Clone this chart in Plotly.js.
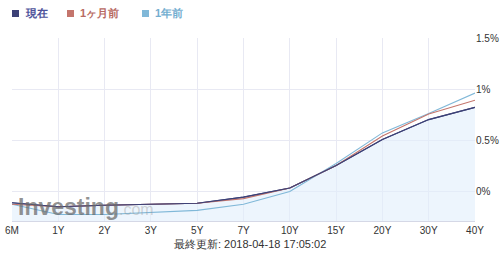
<!DOCTYPE html>
<html>
<head>
<meta charset="utf-8">
<script src="https://cdn.plot.ly/plotly-3.0.1.min.js"></script>
<style>
html,body{margin:0;padding:0;background:#fff;}
#chart{width:501px;height:254px;}
</style>
</head>
<body>
<div id="chart"></div>
<script>
const categories = ["6M","1Y","2Y","3Y","5Y","7Y","10Y","15Y","20Y","30Y","40Y"];
const current   = [-0.115,-0.155,-0.14,-0.13,-0.12,-0.06,0.03,0.25,0.505,0.70,0.82];
const monthAgo  = [-0.13,-0.155,-0.14,-0.13,-0.12,-0.075,0.03,0.25,0.54,0.755,0.89];
const yearAgo   = [-0.13,-0.23,-0.23,-0.21,-0.19,-0.13,-0.005,0.27,0.57,0.76,0.96];
const seriesNames = ["現在","1ヶ月前","1年前"];
const seriesColors = ["#3c4177","#c4756c","#80b8d8"];
const legendTextColors = ["#4d529a","#b86a62","#74aed0"];
const yTickVals = [0,0.5,1,1.5];
const yTickText = ["0%","0.5%","1%","1.5%"];
const footerText = "最終更新: 2018-04-18 17:05:02";

const yMin = -0.294, yMax = 1.5;
const baseline = categories.map(() => yMin);

const traces = [
  {x: categories, y: baseline, mode: "lines", line: {width: 0, color: "rgba(0,0,0,0)"}, hoverinfo: "skip", showlegend: false},
  {x: categories, y: current, name: seriesNames[0], mode: "lines", fill: "tonexty", fillcolor: "rgba(225,239,252,0.6)", line: {color: seriesColors[0], width: 1.1}, showlegend: false},
  {x: categories, y: yearAgo, name: seriesNames[2], mode: "lines", line: {color: seriesColors[2], width: 1.1}, showlegend: false},
  {x: categories, y: monthAgo, name: seriesNames[1], mode: "lines", line: {color: seriesColors[1], width: 1.1}, showlegend: false},
  {x: categories, y: current, name: seriesNames[0], mode: "lines", line: {color: seriesColors[0], width: 1.1}, showlegend: false}
];

// legend built from layout shapes + annotations
const legendX = [12, 67, 142];
const shapes = [];
const annotations = [];
seriesNames.forEach((n, i) => {
  shapes.push({type: "rect", xref: "paper", yref: "paper",
    x0: (legendX[i] - 12) / 463, x1: (legendX[i] - 12 + 7) / 463,
    y0: (221 - 17) / 183, y1: (221 - 10) / 183,
    fillcolor: seriesColors[i], line: {width: 0}});
  annotations.push({xref: "paper", yref: "paper", x: (legendX[i] - 12 + 11) / 463, y: (221 - 13.5) / 183,
    xanchor: "left", yanchor: "middle", showarrow: false, text: "<b>" + n + "</b>",
    font: {family: "Liberation Sans, Arial, sans-serif", size: 11, color: legendTextColors[i]}});
});
annotations.push({xref: "paper", yref: "paper", x: (250 - 12) / 463, y: (221 - 244) / 183,
  xanchor: "center", yanchor: "middle", showarrow: false, text: footerText,
  font: {family: "Liberation Sans, Arial, sans-serif", size: 11, color: "#333"}});
annotations.push({xref: "paper", yref: "paper", x: (16 - 12) / 463, y: (221 - 207) / 183,
  xanchor: "left", yanchor: "middle", showarrow: false,
  text: '<b>Investing</b><span style="font-size:16px;color:rgba(150,150,150,0.55)">.com</span>',
  font: {family: "Liberation Sans, Arial, sans-serif", size: 23, color: "rgba(105,105,105,0.72)"}});

const layout = {
  width: 501, height: 254,
  margin: {l: 12, r: 26, t: 38, b: 33, pad: 0},
  paper_bgcolor: "#fff", plot_bgcolor: "#fff",
  showlegend: false,
  xaxis: {type: "category", range: [0, categories.length - 1], showgrid: true, gridcolor: "#e8e9f3", gridwidth: 1,
    zeroline: false, showline: true, linecolor: "#d5d8e6", linewidth: 1, ticks: "",
    tickfont: {family: "Liberation Sans, Arial, sans-serif", size: 10, color: "#333"}, fixedrange: true},
  yaxis: {range: [yMin, yMax], side: "right", tickvals: yTickVals, ticktext: yTickText, showgrid: true,
    gridcolor: "#e8e9f3", zeroline: false, showline: false, ticks: "",
    tickfont: {family: "Liberation Sans, Arial, sans-serif", size: 10, color: "#333"}, fixedrange: true},
  shapes: shapes,
  annotations: annotations
};

Plotly.newPlot("chart", traces, layout, {displayModeBar: false, staticPlot: true});
</script>
</body>
</html>
